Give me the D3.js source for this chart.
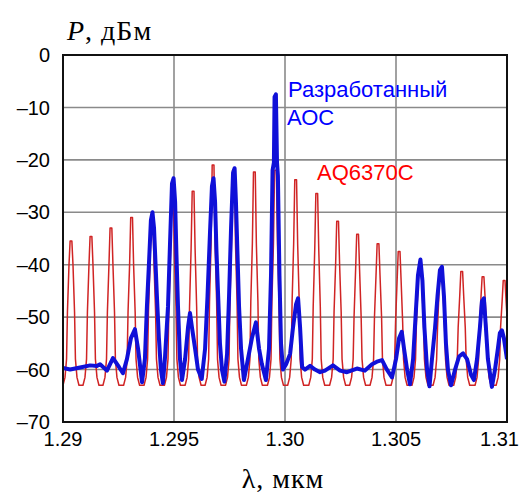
<!DOCTYPE html>
<html><head><meta charset="utf-8">
<script src="https://cdn.jsdelivr.net/npm/d3@7"></script>
<style>
html,body{margin:0;padding:0;background:#fff;}
svg{display:block;}
</style></head>
<body>
<svg id="chart" width="522" height="495"></svg>
<script>
// ---------- DATA ----------
const xTicks = [1.29, 1.295, 1.30, 1.305, 1.31];
const xTickLabels = ["1.29", "1.295", "1.30", "1.305", "1.31"];
const yTicks = [0, -10, -20, -30, -40, -50, -60, -70];
const yTickLabels = ["0", "\u201310", "\u201320", "\u201330", "\u201340", "\u201350", "\u201360", "\u201370"];
const seriesNames = ["Разработанный", "АОС", "AQ6370C"];

// AQ6370C (red) trace, wavelength in µm
const redWavelength = [
 1.29000,1.29009,1.29016,1.29020,1.29027,1.29032,1.29040,1.29045,1.29052,1.29056,1.29063,1.29072,
 1.29090,1.29099,1.29106,1.29110,1.29117,1.29122,1.29130,1.29135,1.29142,1.29146,1.29153,1.29162,
 1.29180,1.29189,1.29196,1.29200,1.29207,1.29212,1.29220,1.29225,1.29232,1.29236,1.29243,1.29252,
 1.29273,1.29282,1.29289,1.29293,1.29300,1.29305,1.29313,1.29318,1.29325,1.29329,1.29336,1.29345,
 1.29365,1.29374,1.29381,1.29385,1.29392,1.29397,1.29405,1.29410,1.29417,1.29421,1.29428,1.29437,
 1.29457,1.29466,1.29473,1.29477,1.29484,1.29489,1.29497,1.29502,1.29509,1.29513,1.29520,1.29529,
 1.29550,1.29559,1.29566,1.29570,1.29577,1.29582,1.29590,1.29595,1.29602,1.29606,1.29613,1.29622,
 1.29640,1.29649,1.29656,1.29660,1.29667,1.29672,1.29680,1.29685,1.29692,1.29696,1.29703,1.29712,
 1.29732,1.29741,1.29748,1.29752,1.29759,1.29764,1.29772,1.29777,1.29784,1.29788,1.29795,1.29804,
 1.29826,1.29835,1.29842,1.29846,1.29853,1.29858,1.29866,1.29871,1.29878,1.29882,1.29889,1.29898,
 1.29921,1.29930,1.29937,1.29941,1.29948,1.29953,1.29961,1.29966,1.29973,1.29977,1.29984,1.29993,
 1.30012,1.30021,1.30028,1.30032,1.30039,1.30044,1.30052,1.30057,1.30064,1.30068,1.30075,1.30084,
 1.30107,1.30116,1.30123,1.30127,1.30134,1.30139,1.30147,1.30152,1.30159,1.30163,1.30170,1.30179,
 1.30201,1.30210,1.30217,1.30221,1.30228,1.30233,1.30241,1.30246,1.30253,1.30257,1.30264,1.30273,
 1.30291,1.30300,1.30307,1.30311,1.30318,1.30323,1.30331,1.30336,1.30343,1.30347,1.30354,1.30363,
 1.30383,1.30392,1.30399,1.30403,1.30410,1.30415,1.30423,1.30428,1.30435,1.30439,1.30446,1.30455,
 1.30478,1.30487,1.30494,1.30498,1.30505,1.30510,1.30518,1.30523,1.30530,1.30534,1.30541,1.30550,
 1.30572,1.30581,1.30588,1.30592,1.30599,1.30604,1.30612,1.30617,1.30624,1.30628,1.30635,1.30644,
 1.30667,1.30676,1.30683,1.30687,1.30694,1.30699,1.30707,1.30712,1.30719,1.30723,1.30730,1.30739,
 1.30760,1.30769,1.30776,1.30780,1.30787,1.30792,1.30800,1.30805,1.30812,1.30816,1.30823,1.30832,
 1.30856,1.30865,1.30872,1.30876,1.30883,1.30888,1.30896,1.30901,1.30908,1.30912,1.30919,1.30928,
 1.30951,1.30960,1.30967,1.30971,1.30978,1.30983,1.30991,1.30996,1.31003,1.31007
];
const redPower = [
 -63,-61.5,-58,-49,-40,-35.5,-35.5,-40,-49,-58,-61.5,-63,
 -63,-61.5,-58,-49,-40,-34.6,-34.6,-40,-49,-58,-61.5,-63,
 -63,-61.5,-58,-49,-40,-33,-33,-40,-49,-58,-61.5,-63,
 -63,-61.5,-58,-49,-40,-31,-31,-40,-49,-58,-61.5,-63,
 -63,-61.5,-58,-49,-40,-30.5,-30.5,-40,-49,-58,-61.5,-63,
 -63,-61.5,-58,-48,-38,-27,-27,-38,-48,-58,-61.5,-63,
 -63,-61.5,-58,-48,-37,-26,-26,-37,-48,-58,-61.5,-63,
 -63,-61.5,-58,-47,-36,-21,-21,-36,-47,-58,-61.5,-63,
 -63,-61.5,-58,-47,-36,-22,-22,-36,-47,-58,-61.5,-63,
 -63,-61.5,-58,-47,-36,-22.3,-22.3,-36,-47,-58,-61.5,-63,
 -63,-61.5,-58,-47,-36,-22,-22,-36,-47,-58,-61.5,-63,
 -63,-61.5,-58,-47,-36,-23.8,-23.8,-36,-47,-58,-61.5,-63,
 -63,-61.5,-58,-48,-37,-26.4,-26.4,-37,-48,-58,-61.5,-63,
 -63,-61.5,-58,-49,-40,-31.7,-31.7,-40,-49,-58,-61.5,-63,
 -63,-61.5,-58,-50,-41,-34.2,-34.2,-41,-50,-58,-61.5,-63,
 -63,-61.5,-58,-50,-42,-36,-36,-42,-50,-58,-61.5,-63,
 -63,-61.5,-58,-51,-43,-37.5,-37.5,-43,-51,-58,-61.5,-63,
 -63,-61.5,-58,-51,-44,-39.5,-39.5,-44,-51,-58,-61.5,-63,
 -63,-61.5,-58,-52,-45,-41,-41,-45,-52,-58,-61.5,-63,
 -63,-61.5,-58,-52,-46,-41.3,-41.3,-46,-52,-58,-61.5,-63,
 -63,-61.5,-58,-52,-46,-42.3,-42.3,-46,-52,-58,-61.5,-63,
 -63,-61.5,-58,-52,-47,-43,-43,-47,-52,-58
];

// Developed OSA (blue) trace
const blueWavelength = [
 1.29000,1.29032,1.29077,1.29122,1.29153,1.29167,1.29198,1.29225,1.29252,1.29270,
 1.29288,1.29306,1.29324,1.29338,1.29356,1.29369,1.29378,1.29387,1.29396,1.29403,
 1.29410,1.29417,1.29423,1.29432,1.29441,1.29450,1.29459,1.29473,1.29482,1.29491,
 1.29498,1.29505,1.29511,1.29518,1.29527,1.29536,1.29550,1.29563,1.29572,1.29581,
 1.29595,1.29608,1.29625,1.29640,1.29651,1.29662,1.29671,1.29678,1.29685,1.29691,
 1.29698,1.29707,1.29716,1.29727,1.29739,1.29748,1.29757,1.29766,1.29773,1.29779,
 1.29786,1.29793,1.29802,1.29815,1.29833,1.29851,1.29869,1.29883,1.29896,1.29914,
 1.29928,1.29937,1.29944,1.29950,1.29953,1.29959,1.29964,1.29968,1.29975,1.29982,
 1.29991,1.30005,1.30023,1.30036,1.30050,1.30059,1.30068,1.30077,1.30090,1.30113,
 1.30135,1.30158,1.30180,1.30216,1.30248,1.30279,1.30324,1.30360,1.30392,1.30414,
 1.30437,1.30459,1.30482,1.30500,1.30514,1.30526,1.30536,1.30550,1.30563,1.30577,
 1.30588,1.30599,1.30610,1.30619,1.30628,1.30640,1.30651,1.30662,1.30676,1.30687,
 1.30698,1.30707,1.30716,1.30725,1.30734,1.30748,1.30766,1.30784,1.30802,1.30820,
 1.30838,1.30851,1.30865,1.30878,1.30887,1.30896,1.30905,1.30914,1.30932,1.30946,
 1.30959,1.30968,1.30977,1.30986,1.31000
];
const bluePower = [
 -59.7,-60.0,-59.6,-59.2,-59.3,-59.0,-60.2,-57.8,-59.5,-60.7,
 -58,-54,-52.3,-56,-62.4,-58,-48,-40,-31.5,-30,
 -33,-40,-46,-54,-60,-62.6,-58,-48,-36,-24.5,
 -23.5,-28,-38,-48,-58,-62,-58,-52,-49.2,-52,
 -56,-60,-61.8,-56,-46,-34,-25,-23.5,-28,-37,
 -45,-55,-60,-62.3,-57,-46,-33,-22.5,-21.6,-28,
 -38,-48,-56,-62,-58,-54,-51,-56,-59,-62,
 -56,-42,-22,-20.5,-8,-7.5,-20.5,-23,-42,-55,
 -60,-59,-57,-52,-47.5,-46.4,-52,-59.5,-60,-59.3,
 -60,-60.5,-60.2,-59.2,-60.2,-60.5,-59.8,-60.2,-59,-58.5,
 -58.2,-60,-61.5,-58,-54,-52.8,-56,-60,-62.8,-58,
 -50,-42,-39,-43,-52,-60,-63.2,-58,-52,-46,
 -41,-40.4,-46,-55,-60,-63,-60,-57.5,-56.9,-58,
 -61,-62,-58,-52,-47,-46.4,-52,-58,-63.3,-60,
 -56,-53,-52.5,-54,-58
];

// ---------- CHART ----------
const svg = d3.select("#chart");
const m = {left: 63, top: 55, right: 15, bottom: 73};
const W = 522 - m.left - m.right, H = 495 - m.top - m.bottom;

const x = d3.scaleLinear().domain([1.29, 1.31]).range([m.left, m.left + W]);
const y = d3.scaleLinear().domain([-70, 0]).range([m.top + H, m.top]);

svg.append("defs").append("clipPath").attr("id", "clip")
  .append("rect").attr("x", m.left).attr("y", m.top).attr("width", W).attr("height", H);

// grid
const grid = svg.append("g");
grid.selectAll("line.h").data(yTicks.slice(1, -1)).join("line")
  .attr("x1", m.left).attr("x2", m.left + W)
  .attr("y1", d => y(d)).attr("y2", d => y(d))
  .attr("stroke", "#8a8a8a").attr("stroke-width", 1.6);
grid.selectAll("line.v").data(xTicks.slice(1, -1)).join("line")
  .attr("y1", m.top).attr("y2", m.top + H)
  .attr("x1", d => x(d)).attr("x2", d => x(d))
  .attr("stroke", "#8a8a8a").attr("stroke-width", 1.6);

const line = d3.line().x(d => x(d[0])).y(d => y(d[1]));
const red = d3.zip(redWavelength, redPower);
const blue = d3.zip(blueWavelength, bluePower);

const plot = svg.append("g").attr("clip-path", "url(#clip)");
plot.append("path").datum(red).attr("d", line)
  .attr("fill", "none").attr("stroke", "#d02424").attr("stroke-width", 1.5)
  .attr("stroke-linejoin", "round");
plot.append("path").datum(blue).attr("d", line)
  .attr("fill", "none").attr("stroke", "#1010d8").attr("stroke-width", 4)
  .attr("stroke-linejoin", "round");

// frame
svg.append("rect").attr("x", m.left).attr("y", m.top).attr("width", W).attr("height", H)
  .attr("fill", "none").attr("stroke", "#111").attr("stroke-width", 2);

// y tick labels
svg.append("g").selectAll("text").data(yTicks).join("text")
  .attr("x", 50).attr("y", d => y(d)).attr("dy", "0.36em")
  .attr("text-anchor", "end")
  .style("font-family", "'Liberation Sans', Arial, sans-serif").style("font-size", "20px")
  .text((d, i) => yTickLabels[i]);

// x tick labels
svg.append("g").selectAll("text").data(xTicks).join("text")
  .attr("x", (d, i) => i === xTicks.length - 1 ? 519 : x(d))
  .attr("y", m.top + H + 24)
  .attr("text-anchor", (d, i) => i === xTicks.length - 1 ? "end" : "middle")
  .style("font-family", "'Liberation Sans', Arial, sans-serif").style("font-size", "20px")
  .text((d, i) => xTickLabels[i]);

// axis titles
const yt = svg.append("text").attr("x", 67).attr("y", 40)
  .style("font-family", "'Liberation Serif', 'Times New Roman', serif").style("font-size", "28px")
  .style("letter-spacing", "1px");
yt.append("tspan").style("font-style", "italic").text("P");
yt.append("tspan").text(", дБм");

svg.append("text").attr("x", 283).attr("y", 488).attr("text-anchor", "middle")
  .style("font-family", "'Liberation Serif', 'Times New Roman', serif").style("font-size", "28px")
  .style("letter-spacing", "1px")
  .text("λ, мкм");

// series labels
const lab = {family: "'Liberation Sans', Arial, sans-serif", size: "22px"};
svg.append("text").attr("x", 288).attr("y", 97).attr("fill", "#0000ff")
  .style("font-family", lab.family).style("font-size", lab.size)
  .text(seriesNames[0]);
svg.append("text").attr("x", 287).attr("y", 125).attr("fill", "#0000ff")
  .style("font-family", lab.family).style("font-size", lab.size)
  .text(seriesNames[1]);
svg.append("text").attr("x", 317).attr("y", 180).attr("fill", "#ff0000")
  .style("font-family", lab.family).style("font-size", lab.size)
  .text(seriesNames[2]);
</script>
</body></html>
